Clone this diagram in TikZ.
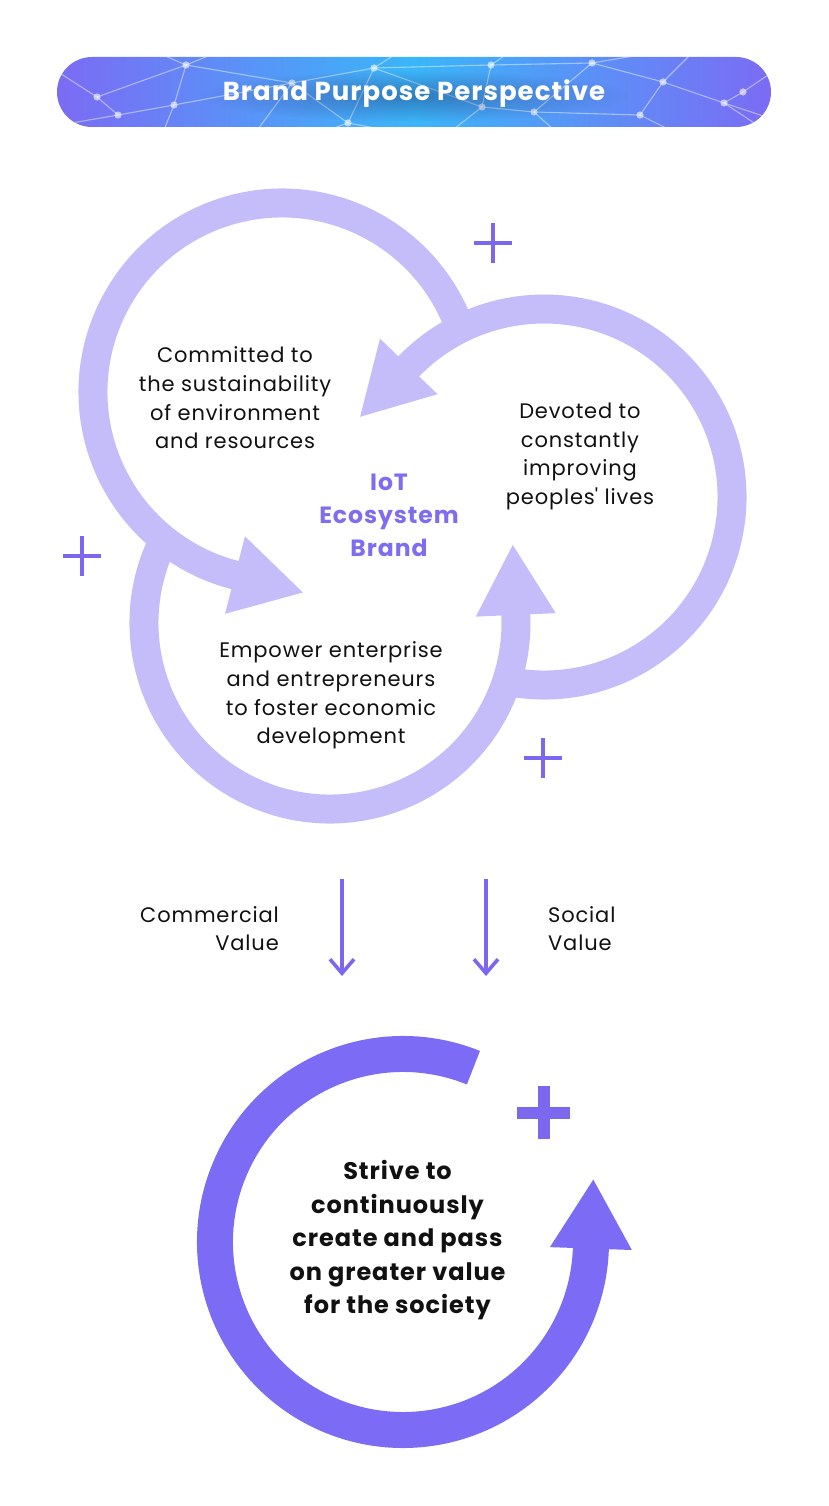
\documentclass[tikz,border=0pt]{standalone}
\usepackage{fontspec}
\setmainfont{Poppins}[LetterSpace=4]
\usetikzlibrary{calc,arrows.meta,fadings}
\definecolor{ringc}{HTML}{C5BDFA}
\definecolor{plusc}{HTML}{7B68EE}
\definecolor{deepc}{HTML}{7B6BF5}
\definecolor{brandc}{HTML}{7F6DF0}
\definecolor{hdrend}{HTML}{7C6BF4}
\definecolor{hdrmid}{HTML}{3AB6F9}
\definecolor{inkc}{HTML}{111111}
\definecolor{shadowc}{HTML}{1A1650}
\tikzfading[name=halofade, inner color=transparent!0, outer color=transparent!100]
\begin{document}
\begin{tikzpicture}[x=1pt,y=1pt,
  bodytext/.style={font=\fontsize{21}{28.7}\selectfont, text=inkc, align=center, inner sep=0pt},
  bandtext/.style={font=\fontsize{23.5}{33.3}\selectfont\bfseries, text=brandc, align=center, inner sep=0pt},
  strivetext/.style={font=\fontsize{24}{33.5}\selectfont\bfseries, text=inkc, align=center, inner sep=0pt},
  ringband/.style={draw=ringc, line width=29pt, line cap=butt},
  ringhead/.style={fill=ringc, draw=none},
  deepband/.style={draw=deepc, line width=36pt, line cap=butt},
  deephead/.style={fill=deepc, draw=none},
  thinplus/.style={draw=plusc, line width=4pt},
  thickplus/.style={draw=plusc, line width=12pt},
  valarrow/.style={draw=plusc, line width=3.6pt, -{Straight Barb[length=14pt,width=24pt]}},
  netline/.style={draw=white, draw opacity=0.45, line width=1.1pt},
  netdot/.style={fill=white, fill opacity=0.6},
  titletext/.style={font=\fontsize{26}{30}\selectfont\bfseries, inner sep=0pt}
]
\useasboundingbox (0,0) rectangle (828,-1506);
\fill[white] (0,0) rectangle (828,-1506);

% ---------- header ----------
\shade[rounded corners=35pt, left color=hdrend, right color=hdrend, middle color=hdrmid]
  (57,-57) rectangle (771,-127);
\begin{scope}
  \clip[rounded corners=35pt] (57,-57) rectangle (771,-127);
  \foreach \n/\x/\y in {n1/97/97, n2/118/115, n3/186/65, n4/174/105, n5/292/83, n6/348/123,
      n7/374/68, n8/491/65, n9/482/107, n10/534/112, n11/592/63, n12/663/82, n13/724/103,
      n14/743/92, n15/640/115, e1/55/70, e2/140/45, e3/235/45, e4/250/140, e5/410/45,
      e6/440/140, e7/520/45, e8/565/140, e9/700/45, e10/790/60, e11/790/125, e12/690/140,
      e13/300/140, e14/160/140, e15/60/125, e16/780/140}
    \coordinate (\n) at (\x,-\y);
  \foreach \a/\b in {n1/e1, n1/n2, n1/n3, n2/n4, n3/n4, n3/n5, n4/n5, n2/e15, n3/e2, n3/e3,
      n4/e14, n5/n6, n5/n7, n6/n7, n6/e13, n5/e4, n7/n8, n7/n9, n7/e5, n8/n9, n6/e6, n9/n10,
      n9/e6, n8/n11, n8/e7, n10/n11, n10/n15, n10/e8, n11/n12, n12/n15, n12/n13, n11/e9,
      n13/n14, n14/e10, n13/e11, n15/e12, n13/e16, n12/e9}
    \draw[netline] (\a) -- (\b);
  \foreach \n in {n1,n2,n3,n4,n5,n6,n7,n8,n9,n10,n11,n12,n13,n14,n15}
    \fill[netdot] (\n) circle (3.6pt);
  % soft dark halo behind the title
  \fill[shadowc, opacity=0.35, path fading=halofade] (414,-96) ellipse [x radius=215, y radius=26];
\end{scope}
\node[titletext, text=white] (title) at (414,-94) {Brand Purpose Perspective};

% ---------- three loops ----------
\coordinate (C1) at (282,-392);
\coordinate (C2) at (544,-497);
\coordinate (C3) at (330,-623);

% ring 1 (top-left)
\draw[ringband] ($(C1)+(18:189)$) arc[start angle=18, end angle=255.8, radius=189];
\fill[ringhead] ($(C1)+(255.6:229)$) -- ($(C1)+(255.6:149)$) -- ($(C1)+(255.6:189)+(345.6:70)$) -- cycle;
% ring 2 (right)
\draw[ringband] ($(C2)+(258:188)$) arc[start angle=258, end angle=496.2, radius=188];
\fill[ringhead] ($(C2)+(136:228)$) -- ($(C2)+(136:148)$) -- ($(C2)+(136:188)+(226:70)$) -- cycle;
% ring 3 (bottom-left)
\draw[ringband] ($(C3)+(155:186)$) arc[start angle=155, end angle=362.7, radius=186];
\fill[ringhead] ($(C3)+(2.5:226)$) -- ($(C3)+(2.5:146)$) -- ($(C3)+(2.5:186)+(92.5:70)$) -- cycle;

% plus signs
\foreach \n/\x/\y in {p1/493/243, p2/82/556, p3/543/758} {
  \coordinate (\n) at (\x,-\y);
  \draw[thinplus] ($(\n)+(-19,0)$) -- ($(\n)+(19,0)$);
  \draw[thinplus] ($(\n)+(0,-20)$) -- ($(\n)+(0,20)$);
}

% texts in loops
\node[bodytext] (env) at (235,-398) {Committed to\\the sustainability\\of environment\\and resources};
\node[bodytext] (lives) at (580,-456.5) {Devoted to\\constantly\\improving\\peoples\textquotesingle{} lives};
\node[bodytext] (econ) at (331,-695.5) {Empower enterprise\\and entrepreneurs\\to foster economic\\development};
\node[bandtext] (brand) at (389,-515.5) {IoT\\Ecosystem\\Brand};

% ---------- value arrows ----------
\coordinate (a1s) at (342,-879);
\coordinate (a1e) at (342,-976);
\coordinate (a2s) at (486,-879);
\coordinate (a2e) at (486,-976);
\draw[valarrow] (a1s) -- (a1e);
\draw[valarrow] (a2s) -- (a2e);
\node[bodytext, align=right, anchor=east] (comm) at (279,-928.5) {Commercial\\Value};
\node[bodytext, align=left, anchor=west] (soc) at (548,-928.5) {Social\\Value};

% ---------- bottom cycle ----------
\coordinate (C4) at (403,-1242);
\draw[deepband] ($(C4)+(68:188)$) arc[start angle=68, end angle=358.2, radius=188];
\fill[deephead] ($(C4)+(358:229)$) -- ($(C4)+(358:147)$) -- ($(C4)+(358:188)+(88:69)$) -- cycle;
\coordinate (p4) at (543.5,-1112.5);
\draw[thickplus] ($(p4)+(-26.5,0)$) -- ($(p4)+(26.5,0)$);
\draw[thickplus] ($(p4)+(0,-26.5)$) -- ($(p4)+(0,26.5)$);
\node[strivetext] (strive) at (397.5,-1240.5) {Strive to\\continuously\\create and pass\\on greater value\\for the society};
\end{tikzpicture}
\end{document}
